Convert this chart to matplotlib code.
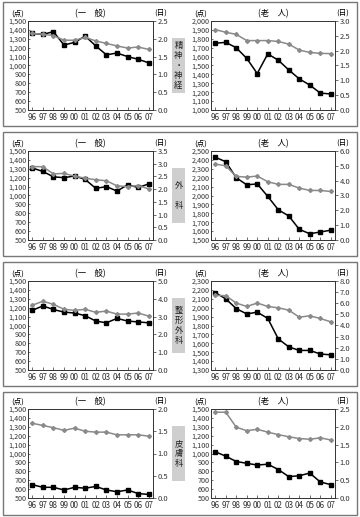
import matplotlib
matplotlib.use('Agg')
import matplotlib.pyplot as plt
from matplotlib.patches import Rectangle
from matplotlib.ticker import FuncFormatter, MultipleLocator

plt.rcParams['font.family'] = ['Noto Sans CJK JP', 'DejaVu Sans']
plt.rcParams['font.size'] = 5.5

years = ['96', '97', '98', '99', '00', '01', '02', '03', '04', '05', '06', '07']

# black line = points (left axis), gray line = days (right axis)
seishin_ippan_pts = [1360, 1350, 1380, 1230, 1260, 1330, 1220, 1120, 1140, 1100, 1070, 1030]
seishin_ippan_days = [2.15, 2.13, 2.09, 1.96, 1.96, 2.04, 1.94, 1.87, 1.80, 1.74, 1.77, 1.70]
seishin_rojin_pts = [1750, 1760, 1700, 1580, 1410, 1630, 1560, 1450, 1350, 1280, 1190, 1180]
seishin_rojin_days = [2.71, 2.62, 2.55, 2.34, 2.34, 2.34, 2.31, 2.22, 2.02, 1.94, 1.91, 1.90]

geka_ippan_pts = [1310, 1270, 1210, 1200, 1220, 1180, 1080, 1100, 1050, 1120, 1090, 1130]
geka_ippan_days = [2.89, 2.88, 2.60, 2.62, 2.51, 2.43, 2.37, 2.33, 2.13, 2.10, 2.14, 2.01]
geka_rojin_pts = [2430, 2380, 2200, 2120, 2130, 1990, 1840, 1770, 1620, 1570, 1590, 1610]
geka_rojin_days = [5.12, 5.00, 4.29, 4.24, 4.31, 3.93, 3.75, 3.75, 3.50, 3.34, 3.34, 3.27]

seikei_ippan_pts = [1170, 1220, 1180, 1150, 1140, 1110, 1050, 1030, 1080, 1050, 1040, 1030]
seikei_ippan_days = [3.64, 3.86, 3.69, 3.41, 3.35, 3.41, 3.24, 3.31, 3.14, 3.14, 3.20, 3.03]
seikei_rojin_pts = [2170, 2100, 1990, 1930, 1950, 1880, 1650, 1560, 1520, 1520, 1480, 1470]
seikei_rojin_days = [6.71, 6.68, 6.02, 5.71, 6.02, 5.71, 5.59, 5.38, 4.75, 4.87, 4.63, 4.33]

hifu_ippan_pts = [650, 620, 620, 590, 620, 610, 630, 590, 570, 590, 550, 540]
hifu_ippan_days = [1.68, 1.63, 1.58, 1.52, 1.57, 1.50, 1.48, 1.48, 1.42, 1.42, 1.42, 1.39]
hifu_rojin_pts = [1020, 970, 910, 890, 870, 880, 820, 740, 750, 780, 680, 650]
hifu_rojin_days = [2.41, 2.41, 1.99, 1.89, 1.93, 1.85, 1.78, 1.72, 1.67, 1.65, 1.69, 1.63]

rows = [
    (['精', '神', '・', '神', '経'],
     (seishin_ippan_pts, seishin_ippan_days, 500, 2.5, 0.5),
     (seishin_rojin_pts, seishin_rojin_days, 1000, 3.0, 0.5)),
    (['外', '', '科'],
     (geka_ippan_pts, geka_ippan_days, 500, 3.5, 0.5),
     (geka_rojin_pts, geka_rojin_days, 1500, 6.0, 1.0)),
    (['整', '形', '外', '科'],
     (seikei_ippan_pts, seikei_ippan_days, 500, 5.0, 1.0),
     (seikei_rojin_pts, seikei_rojin_days, 1300, 8.0, 1.0)),
    (['皮', '膚', '科'],
     (hifu_ippan_pts, hifu_ippan_days, 500, 2.0, 0.5),
     (hifu_rojin_pts, hifu_rojin_days, 500, 2.5, 0.5)),
]

W, H = 360, 517
fig = plt.figure(figsize=(W / 100, H / 100), dpi=100)

def fx(px):
    return px / W

def fy(py):
    return 1 - py / H

frames = [(2, 126), (132, 256), (262, 386), (392, 515)]
ax_tops = [21, 151, 281, 409]
ax_h = 89
ax_lefts = [(28, 125, '(一　般)'), (211, 124, '(老　人)')]

for r, (label, *subs) in enumerate(rows):
    top, bot = frames[r]
    fig.patches.append(Rectangle((fx(3), fy(bot)), fx(354), (bot - top) / H,
                                 transform=fig.transFigure, fill=False,
                                 edgecolor='#777777', linewidth=1.0))
    # label box in the middle, one character per line
    fig.patches.append(Rectangle((fx(172), fy(ax_tops[r] + 72)), fx(13), 55 / H,
                                 transform=fig.transFigure, facecolor='#cfcfcf',
                                 edgecolor='none'))
    step = 10
    ymid = ax_tops[r] + 44.5
    for i, ch in enumerate(label):
        yc = ymid + (i - (len(label) - 1) / 2) * step
        fig.text(fx(178.5), fy(yc), ch, ha='center', va='center',
                 fontsize=6, color='#222222')

    for c, (pts, days, ymin, rmax, rstep) in enumerate(subs):
        left, width, title = ax_lefts[c]
        ax = fig.add_axes([fx(left), fy(ax_tops[r] + ax_h), width / W, ax_h / H])
        x = range(len(years))
        ax.plot(x, pts, color='black', marker='s', markersize=3, linewidth=1.1, zorder=3)
        ax.set_ylim(ymin, ymin + 1000)
        ax.set_xlim(-0.4, len(years) - 0.6)
        ax.set_xticks(list(x))
        ax.set_xticklabels(years)
        ax.yaxis.set_major_locator(MultipleLocator(100))
        ax.yaxis.set_major_formatter(FuncFormatter(lambda v, p: f'{int(v):,}'))
        ax.tick_params(axis='y', direction='in', length=1.5, width=0.5, pad=1,
                       labelsize=5.2, colors='#333333')
        ax.tick_params(axis='x', direction='in', length=2, width=0.5, pad=2,
                       labelsize=5.8, colors='#333333')

        ax2 = ax.twinx()
        ax2.plot(x, days, color='#8a8a8a', marker='D', markersize=2, linewidth=1.1, zorder=2)
        ax2.set_ylim(0, rmax)
        ax2.yaxis.set_major_locator(MultipleLocator(rstep))
        ax2.yaxis.set_major_formatter(FuncFormatter(lambda v, p: f'{v:.1f}'))
        ax2.tick_params(axis='y', direction='out', length=2.5, width=0.5, pad=1,
                        labelsize=5.5, colors='#333333')
        for a in (ax, ax2):
            for s in a.spines.values():
                s.set_linewidth(0.6)
                s.set_color('#333333')

        ytxt = fy(ax_tops[r] - 7)
        fig.text(fx(left - 10), ytxt, '(点)', ha='center', va='center', fontsize=5.5)
        fig.text(fx(left + width / 2), ytxt, title, ha='center', va='center', fontsize=6)
        fig.text(fx(left + width + 8), ytxt, '(日)', ha='center', va='center', fontsize=5.5)

fig.savefig('out.png', dpi=100)
